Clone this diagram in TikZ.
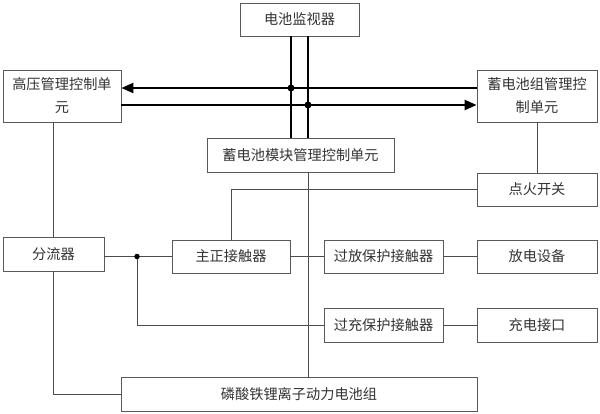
\documentclass[tikz,border=0pt]{standalone}
\usepackage{fontspec}
\newfontfamily\cjk{Noto Sans CJK SC}
\usetikzlibrary{arrows.meta}
\tikzset{
  box/.style={draw=black!65, line width=0.8pt, inner sep=0pt, align=center,
    text=black!80, minimum height=33pt},
  bus/.style={line width=2.2pt, black},
  wire/.style={line width=0.8pt, black!70},
  dot/.style={circle, fill=black, inner sep=0pt, minimum size=#1},
}
\begin{document}
\begin{tikzpicture}[x=1pt, y=-1pt, font=\cjk\fontsize{14.2}{23}\selectfont]
  \useasboundingbox (0,0) rectangle (600,413);
  \draw
    (299.5,19.5) node[box, minimum width=119pt] (mon){电池监视器}
    (62,96) node[box, minimum width=118pt, minimum height=52pt] (hv){高压管理控制单\\元}
    (537,96) node[box, minimum width=120pt, minimum height=52pt] (bms){蓄电池组管理控\\制单元}
    (300.5,155) node[box, minimum width=187pt, minimum height=34pt] (mod){蓄电池模块管理控制单元}
    (537,189.5) node[box, minimum width=120pt] (ign){点火开关}
    (53.5,254) node[box, minimum width=101pt, minimum height=34pt] (shunt){分流器}
    (231,256.5) node[box, minimum width=118pt] (main){主正接触器}
    (383.5,256.5) node[box, minimum width=119pt] (od){过放保护接触器}
    (537,256.5) node[box, minimum width=120pt] (dis){放电设备}
    (383.5,325) node[box, minimum width=119pt, minimum height=34pt] (oc){过充保护接触器}
    (537,325) node[box, minimum width=120pt, minimum height=34pt] (chg){充电接口}
    (299,394) node[box, minimum width=356pt, minimum height=34pt] (pack){磷酸铁锂离子动力电池组};
  \coordinate (v1) at (291,88);
  \coordinate (v2) at (308,105);
  \coordinate (j) at (137,256.5);
  \begin{scope}[bus]
    \draw (mon.south -| v1) -- (mod.north -| v1);
    \draw (mon.south -| v2) -- (mod.north -| v2);
    \draw[-{Triangle[length=12pt,width=10pt]}] (bms.west |- v1) -- (hv.east |- v1);
    \draw[-{Triangle[length=12pt,width=10pt]}] (hv.east |- v2) -- (bms.west |- v2);
    \node[dot=7pt] at (v1) {};
    \node[dot=7pt] at (v2) {};
  \end{scope}
  \begin{scope}[wire]
    \draw (hv.south -| shunt.north) -- (shunt.north);
    \draw (bms) -- (ign);
    \draw (ign.west) -| (main.north);
    \draw (mod.south -| v2) -- (pack.north -| v2);
    \draw (shunt.east |- main.west) -- (main.west);
    \draw (j) |- (oc.west);
    \draw (main.east) -- (od.west);
    \draw (od.east) -- (dis.west);
    \draw (oc.east) -- (chg.west);
    \draw (shunt.south) |- (pack.west);
    \node[dot=5.5pt] at (j) {};
  \end{scope}
\end{tikzpicture}
\end{document}
